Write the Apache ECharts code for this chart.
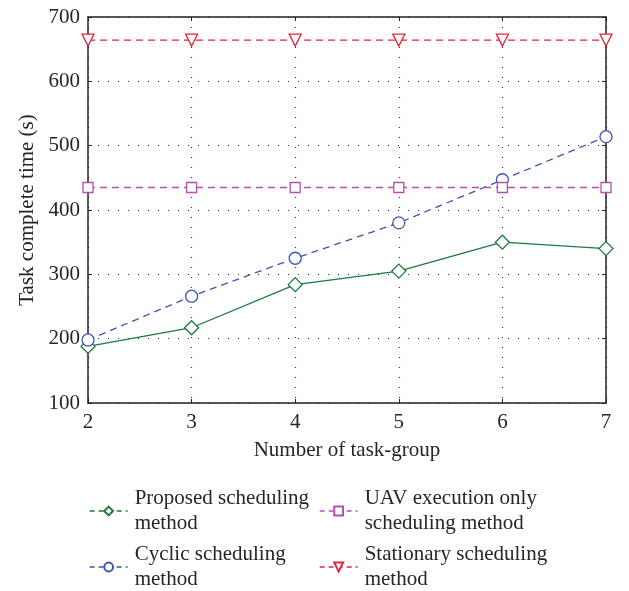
<!DOCTYPE html>
<html><head><meta charset="utf-8">
<script src="https://cdn.jsdelivr.net/npm/echarts@6/dist/echarts.min.js"></script>
<style>html,body{margin:0;padding:0;background:#fff}#c{width:629px;height:591px}</style>
</head><body><div id="c"></div>
<script>
const taskGroups = [2, 3, 4, 5, 6, 7];
const proposed = [188, 217, 284, 305, 350, 340];
const cyclic = [198, 266, 325, 380, 447, 514];
const uavOnly = [435, 435, 435, 435, 435, 435];
const stationary = [664, 664, 664, 664, 664, 664];
const yTicks = [100, 200, 300, 400, 500, 600, 700];
const names = ['Proposed scheduling\nmethod', 'Cyclic scheduling\nmethod', 'UAV execution only\nscheduling method', 'Stationary scheduling\nmethod'];
const colors = ['#1d7a3c', '#3b55b3', '#b650ad', '#e0263c'];

const font = 'Liberation Serif, DejaVu Serif, serif';
const fs = 21;
const pairs = arr => taskGroups.map((x, i) => [x, arr[i]]);

const mk = (name, data, color, symbol, size, dashed, rotate) => ({
  name, type: 'line', data: pairs(data), symbol, symbolSize: size, symbolRotate: rotate || 0,
  showAllSymbol: true,
  lineStyle: { color, width: 1.3, type: dashed ? [7, 5] : 'solid' },
  itemStyle: { color: '#fff', borderColor: color, borderWidth: 1.3 },
  emphasis: { disabled: true }, animation: false, z: 3
});

const legendPos = [[84, 481], [84, 537], [314, 481], [314, 537]];
const legends = names.map((n, i) => ({
  data: [n], left: legendPos[i][0], top: legendPos[i][1], itemWidth: 38, itemHeight: 11, itemGap: 0,
  textStyle: { fontFamily: font, fontSize: fs, color: '#262626', lineHeight: 25, padding: [0, 0, 0, 2] },
  lineStyle: { type: [5, 4], width: 1.3 }, selectedMode: false
}));

const chart = echarts.init(document.getElementById('c'));
chart.setOption({
  animation: false,
  grid: { left: 88, right: 23, top: 17, bottom: 188 },
  legend: legends,
  xAxis: [{
    type: 'value', min: 2, max: 7, interval: 1,
    name: 'Number of task-group', nameLocation: 'middle', nameGap: 37,
    nameTextStyle: { fontFamily: font, fontSize: fs, color: '#262626' },
    axisLine: { lineStyle: { color: '#222', width: 1.5 } },
    axisTick: { inside: true, length: 4, lineStyle: { color: '#222' } },
    axisLabel: { fontFamily: font, fontSize: fs, color: '#262626', margin: 9 },
    splitLine: { show: true, lineStyle: { color: '#333', type: [1, 9], width: 1.2 } }
  }, {
    type: 'value', position: 'top', min: 2, max: 7, interval: 1,
    axisLine: { show: true, lineStyle: { color: '#222', width: 1.5 } },
    axisTick: { inside: true, length: 4, lineStyle: { color: '#222' } },
    axisLabel: { show: false }, splitLine: { show: false }
  }],
  yAxis: [{
    type: 'value', min: yTicks[0], max: yTicks[yTicks.length - 1], interval: 100,
    name: 'Task complete time (s)', nameLocation: 'middle', nameGap: 49,
    nameTextStyle: { fontFamily: font, fontSize: fs, color: '#262626' },
    axisLine: { show: true, lineStyle: { color: '#222', width: 1.5 } },
    axisTick: { inside: true, length: 4, lineStyle: { color: '#222' } },
    axisLabel: { fontFamily: font, fontSize: fs, color: '#262626', margin: 8 },
    splitLine: { show: true, lineStyle: { color: '#333', type: [1, 9], width: 1.2 } }
  }, {
    type: 'value', position: 'right', min: 100, max: 700, interval: 100,
    axisLine: { show: true, lineStyle: { color: '#222', width: 1.5 } },
    axisTick: { inside: true, length: 4, lineStyle: { color: '#222' } },
    axisLabel: { show: false }, splitLine: { show: false }
  }],
  series: [
    mk(names[0], proposed, colors[0], 'diamond', 14, false),
    mk(names[1], cyclic, colors[1], 'circle', 12, true),
    mk(names[2], uavOnly, colors[2], 'rect', 10, true),
    mk(names[3], stationary, colors[3], 'triangle', 12, true, 180)
  ]
});
</script></body></html>
